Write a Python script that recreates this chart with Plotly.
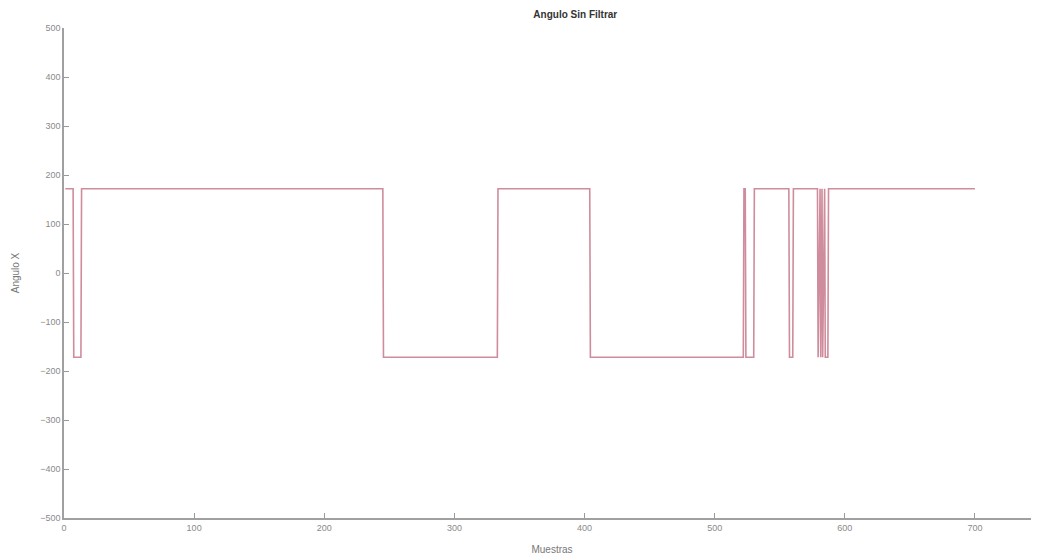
import plotly.graph_objects as go

# Breakpoints of the step signal (sample index, angle)
muestras = [1, 7, 7.5, 13, 13.5, 245, 245.5, 333, 333.5, 404, 404.5, 522, 522.5, 523.5, 524,
            530, 530.5, 557, 557.5, 560, 560.5, 579, 579.5, 581, 581.5, 582.5, 583, 584.5,
            585, 587, 587.5, 700]
angulo = [172, 172, -172, -172, 172, 172, -172, -172, 172, 172, -172, -172, 172, 172, -172,
          -172, 172, 172, -172, -172, 172, 172, -172, 172, -172, 172, -172, 172,
          -172, -172, 172, 172]

x_ticks = [0, 100, 200, 300, 400, 500, 600, 700]
y_ticks = [500, 400, 300, 200, 100, 0, -100, -200, -300, -400, -500]

fig = go.Figure()
fig.add_trace(go.Scatter(x=muestras, y=angulo, mode="lines",
                         line=dict(color="#cf8c9c", width=1.6), showlegend=False))

axis_font = dict(family="Liberation Sans, Arial, sans-serif", size=9, color="#8a8a8a")
fig.update_layout(
    width=1039, height=558,
    paper_bgcolor="white", plot_bgcolor="white",
    margin=dict(l=56, r=7, t=20, b=48, autoexpand=False),
    title=dict(text="<b>Angulo Sin Filtrar</b>", x=0.546, xanchor="center", y=0.989, yanchor="middle",
               font=dict(family="Liberation Sans, Arial, sans-serif", size=10, color="#333333")),
    xaxis=dict(range=[0, 750], tickvals=x_ticks, ticks="inside", ticklen=5, tickcolor="#999999",
               showgrid=False, zeroline=False, showline=True, linecolor="#a0a0a0", linewidth=1.5,
               tickfont=axis_font, automargin=False,
               title=dict(text="Muestras", font=dict(family="Liberation Sans, Arial, sans-serif", size=10, color="#777777"), standoff=14)),
    yaxis=dict(range=[-500, 500], tickvals=y_ticks, ticks="inside", ticklen=5, tickcolor="#999999",
               showgrid=False, zeroline=False, showline=True, linecolor="#a0a0a0", linewidth=1.5,
               tickfont=axis_font, automargin=False,
               title=dict(text="Angulo X", font=dict(family="Liberation Sans, Arial, sans-serif", size=10, color="#777777"), standoff=19)),
)

fig.write_html("out.html")
